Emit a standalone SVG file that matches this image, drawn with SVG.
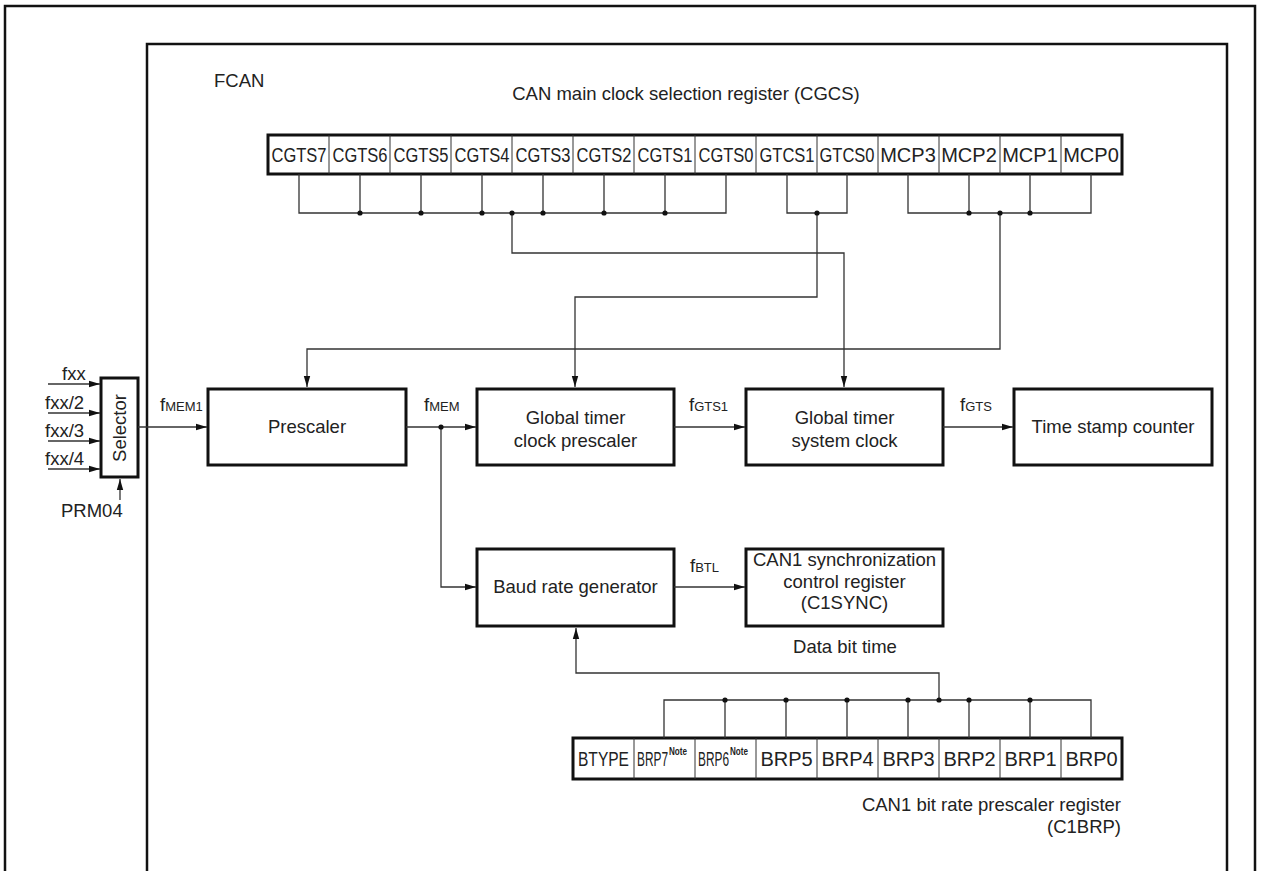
<svg xmlns="http://www.w3.org/2000/svg" width="1261" height="871" viewBox="0 0 1261 871">
<style>
.frame{fill:none;stroke:#111;stroke-width:2.5}
.box{fill:#fff;stroke:#111;stroke-width:3}
.cell{stroke:#333;stroke-width:1;fill:none}
.wire{fill:none;stroke:#333;stroke-width:1.3}
.arr{fill:none;stroke:#333;stroke-width:1.3;marker-end:url(#ah)}
.dot{fill:#111}
text{font-family:"Liberation Sans",Arial,Helvetica,sans-serif;fill:#222}
.t{font-size:18.5px}
.m{text-anchor:middle}
.c{font-size:20px}
.sub{font-size:13px}
.note{font-size:10px;font-weight:bold}
</style>
<defs>
<marker id="ah" markerUnits="userSpaceOnUse" markerWidth="12" markerHeight="8" refX="11" refY="4" orient="auto">
<path d="M0,0.8 L11,4 L0,7.2 z" fill="#111"/>
</marker>
</defs>
<rect width="1261" height="871" fill="#fff"/>
<g id="frames">
<path class="frame" d="M5,875 V6 H1255 V875"/>
<path class="frame" d="M147,875 V44 H1227 V875"/>
<text class="t" x="214" y="87">FCAN</text>
<text class="t m" x="686" y="100">CAN main clock selection register (CGCS)</text>
</g>
<g id="cgcs">
<rect class="box" x="268" y="135" width="854" height="39"/>
<path class="cell" d="M329,135V174M390,135V174M451,135V174M512,135V174M573,135V174M634,135V174M695,135V174M756,135V174M817,135V174M878,135V174M939,135V174M1000,135V174M1061,135V174"/>
<text class="c m" x="299" y="162" textLength="55" lengthAdjust="spacingAndGlyphs">CGTS7</text>
<text class="c m" x="360" y="162" textLength="55" lengthAdjust="spacingAndGlyphs">CGTS6</text>
<text class="c m" x="421" y="162" textLength="55" lengthAdjust="spacingAndGlyphs">CGTS5</text>
<text class="c m" x="482" y="162" textLength="55" lengthAdjust="spacingAndGlyphs">CGTS4</text>
<text class="c m" x="543" y="162" textLength="55" lengthAdjust="spacingAndGlyphs">CGTS3</text>
<text class="c m" x="604" y="162" textLength="55" lengthAdjust="spacingAndGlyphs">CGTS2</text>
<text class="c m" x="665" y="162" textLength="55" lengthAdjust="spacingAndGlyphs">CGTS1</text>
<text class="c m" x="726" y="162" textLength="55" lengthAdjust="spacingAndGlyphs">CGTS0</text>
<text class="c m" x="787" y="162" textLength="55" lengthAdjust="spacingAndGlyphs">GTCS1</text>
<text class="c m" x="847" y="162" textLength="55" lengthAdjust="spacingAndGlyphs">GTCS0</text>
<text class="c m" x="908" y="162">MCP3</text>
<text class="c m" x="969" y="162">MCP2</text>
<text class="c m" x="1030" y="162">MCP1</text>
<text class="c m" x="1091" y="162">MCP0</text>
</g>
<g id="selector">
<rect class="box" x="101" y="378" width="37" height="99"/>
<text class="t m" transform="translate(126,428) rotate(-90)">Selector</text>
<text class="t" x="62" y="380">fxx</text>
<text class="t" x="45" y="409">fxx/2</text>
<text class="t" x="45" y="437">fxx/3</text>
<text class="t" x="45" y="465">fxx/4</text>
<text class="t" x="61" y="517">PRM04</text>
</g>
<g id="prescaler">
<rect class="box" x="208" y="389" width="198" height="76"/>
<text class="t m" x="307" y="433">Prescaler</text>
</g>
<g id="gtcp">
<rect class="box" x="477" y="389" width="197" height="76"/>
<text class="t m" x="575.5" y="424">Global timer</text>
<text class="t m" x="575.5" y="447">clock prescaler</text>
</g>
<g id="gtsc">
<rect class="box" x="746" y="389" width="197" height="76"/>
<text class="t m" x="844.5" y="424">Global timer</text>
<text class="t m" x="844.5" y="447">system clock</text>
</g>
<g id="tsc">
<rect class="box" x="1014" y="389" width="198" height="76"/>
<text class="t m" x="1113" y="433">Time stamp counter</text>
</g>
<g id="brg">
<rect class="box" x="477" y="549" width="197" height="77"/>
<text class="t m" x="575.5" y="593">Baud rate generator</text>
</g>
<g id="c1sync">
<rect class="box" x="746" y="549" width="197" height="77"/>
<text class="t m" x="844.5" y="566">CAN1 synchronization</text>
<text class="t m" x="844.5" y="588">control register</text>
<text class="t m" x="844.5" y="609">(C1SYNC)</text>
<text class="t m" x="845" y="653">Data bit time</text>
</g>
<g id="c1brp">
<rect class="box" x="573" y="738" width="549" height="41"/>
<path class="cell" d="M634,738V779M695,738V779M756,738V779M817,738V779M878,738V779M939,738V779M1000,738V779M1061,738V779"/>
<text class="c m" x="603.5" y="766" textLength="51" lengthAdjust="spacingAndGlyphs">BTYPE</text>
<text class="c" x="637" y="766"><tspan textLength="31" lengthAdjust="spacingAndGlyphs">BRP7</tspan><tspan class="note" x="669" y="755" textLength="18" lengthAdjust="spacingAndGlyphs">Note</tspan></text>
<text class="c" x="698" y="766"><tspan textLength="31" lengthAdjust="spacingAndGlyphs">BRP6</tspan><tspan class="note" x="730" y="755" textLength="18" lengthAdjust="spacingAndGlyphs">Note</tspan></text>
<text class="c m" x="786.5" y="766">BRP5</text>
<text class="c m" x="847.5" y="766">BRP4</text>
<text class="c m" x="908.5" y="766">BRP3</text>
<text class="c m" x="969.5" y="766">BRP2</text>
<text class="c m" x="1030.5" y="766">BRP1</text>
<text class="c m" x="1091.5" y="766">BRP0</text>
<text class="t" x="1121" y="811" text-anchor="end">CAN1 bit rate prescaler register</text>
<text class="t" x="1121" y="833" text-anchor="end">(C1BRP)</text>
</g>
<g id="labels">
<text class="t" x="160" y="411">f<tspan class="sub">MEM1</tspan></text>
<text class="t" x="424" y="411">f<tspan class="sub">MEM</tspan></text>
<text class="t" x="689" y="411">f<tspan class="sub">GTS1</tspan></text>
<text class="t" x="960" y="411">f<tspan class="sub">GTS</tspan></text>
<text class="t" x="690" y="572">f<tspan class="sub">BTL</tspan></text>
</g>
<g id="connectors">
<path class="wire" d="M299,174V213H726V174M360,174V213M421,174V213M482,174V213M543,174V213M604,174V213M665,174V213"/>
<path class="wire" d="M787,174V213H847V174"/>
<path class="wire" d="M908,174V213H1091V174M969,174V213M1030,174V213"/>
<path class="arr" d="M512,213V253H844V387"/>
<path class="arr" d="M817,213V297H575V387"/>
<path class="arr" d="M1000,213V349H307V387"/>
<path class="arr" d="M48,384H100"/>
<path class="arr" d="M48,413H100"/>
<path class="arr" d="M48,441H100"/>
<path class="arr" d="M48,469H100"/>
<path class="arr" d="M120,500V479"/>
<path class="arr" d="M138,427H207"/>
<path class="arr" d="M406,427H476"/>
<path class="arr" d="M674,427H745"/>
<path class="arr" d="M943,427H1013"/>
<path class="arr" d="M441,427V587H476"/>
<path class="arr" d="M674,587H745"/>
<path class="wire" d="M664,738V700H1091V738M725,700V738M786,700V738M847,700V738M908,700V738M969,700V738M1030,700V738"/>
<path class="arr" d="M939,700V673H576V628"/>
<g class="dot">
<circle cx="360" cy="213" r="2.6"/><circle cx="421" cy="213" r="2.6"/><circle cx="482" cy="213" r="2.6"/><circle cx="512" cy="213" r="2.6"/><circle cx="543" cy="213" r="2.6"/><circle cx="604" cy="213" r="2.6"/><circle cx="665" cy="213" r="2.6"/>
<circle cx="817" cy="213" r="2.6"/>
<circle cx="969" cy="213" r="2.6"/><circle cx="1000" cy="213" r="2.6"/><circle cx="1030" cy="213" r="2.6"/>
<circle cx="441" cy="427" r="2.6"/>
<circle cx="725" cy="700" r="2.6"/><circle cx="786" cy="700" r="2.6"/><circle cx="847" cy="700" r="2.6"/><circle cx="908" cy="700" r="2.6"/><circle cx="939" cy="700" r="2.6"/><circle cx="969" cy="700" r="2.6"/><circle cx="1030" cy="700" r="2.6"/>
</g>
</g>
</svg>
